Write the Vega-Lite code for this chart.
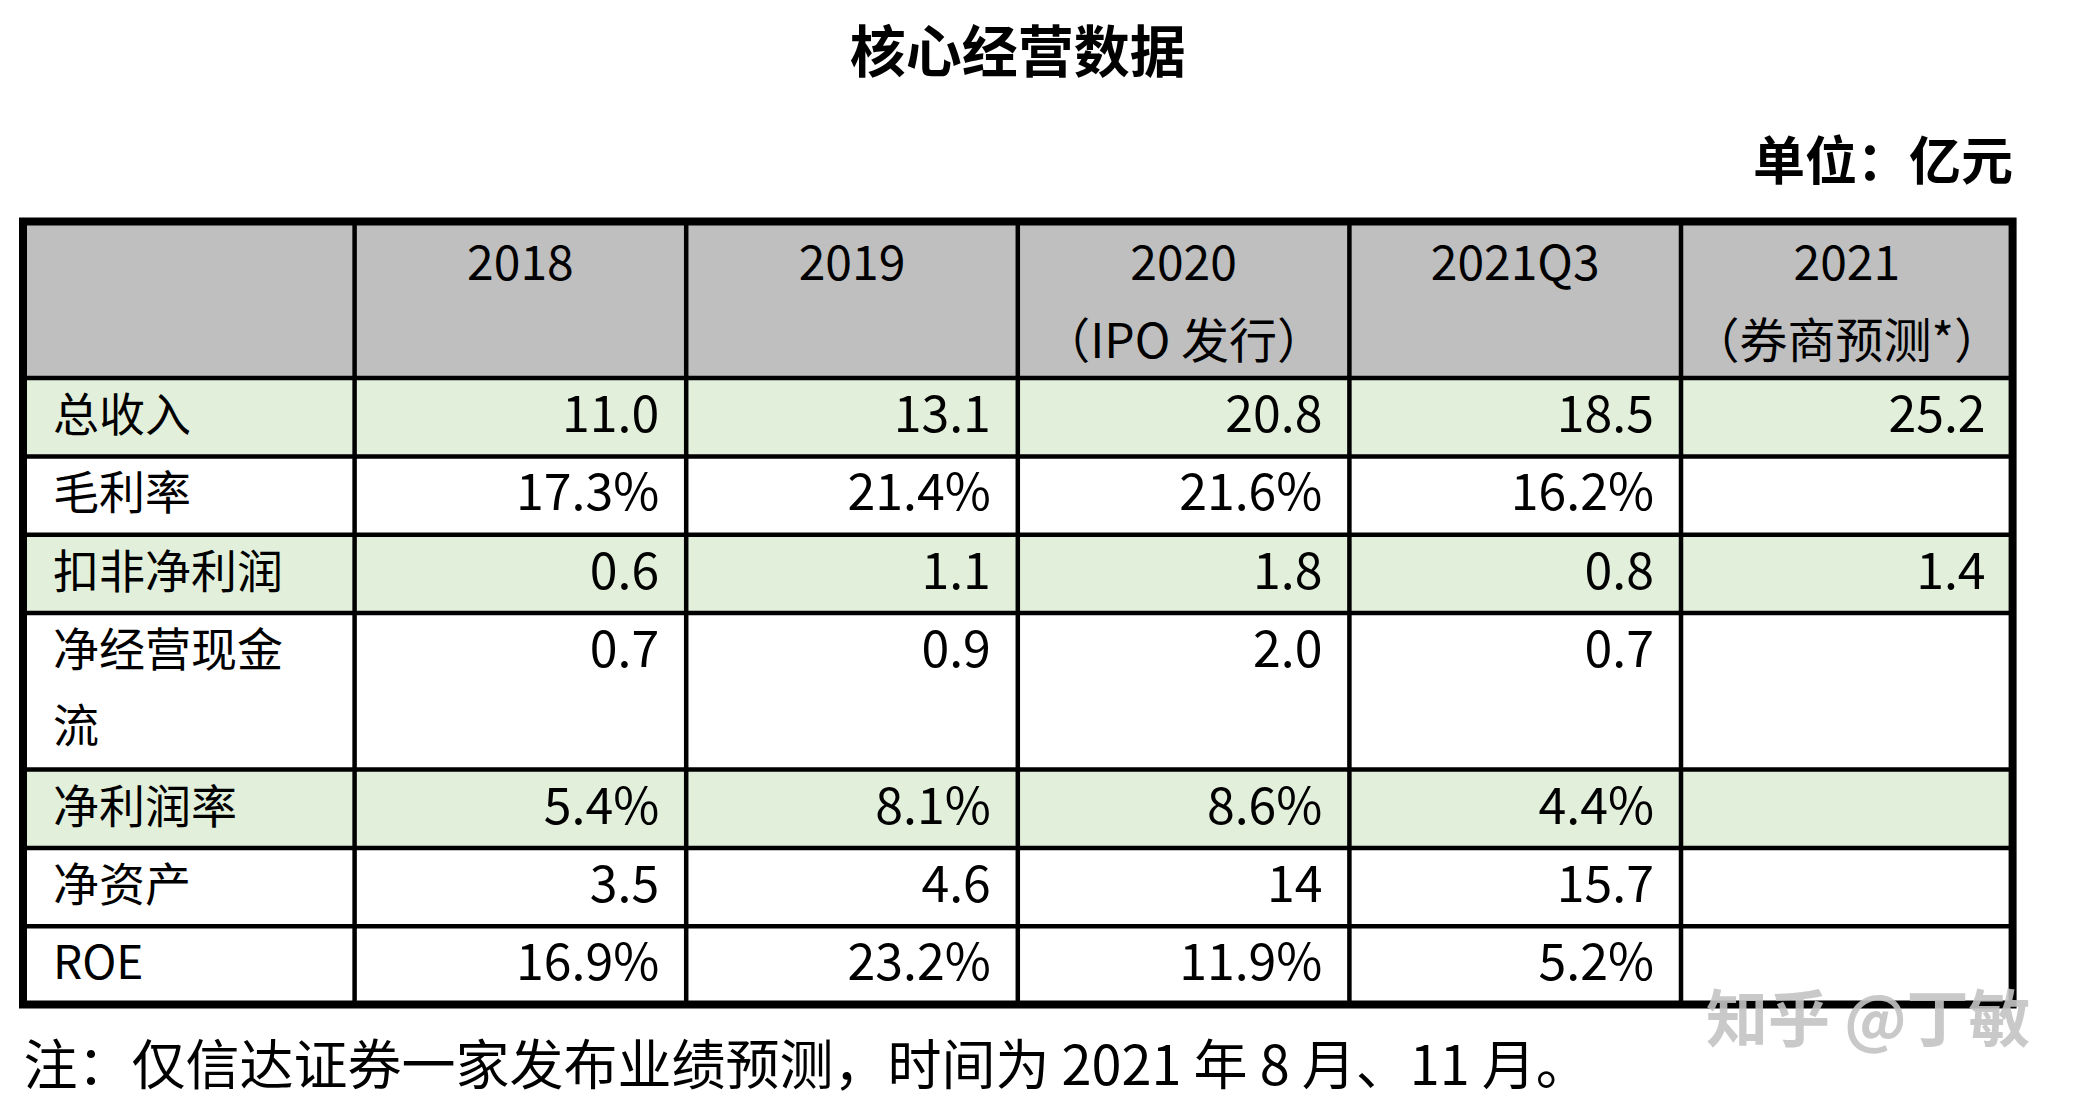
{
  "$schema": "https://vega.github.io/schema/vega-lite/v6.json",
  "width": 1989.6,
  "height": 783,
  "autosize": {"type": "none"},
  "padding": {"left": 23, "top": 221.5, "right": 68.4, "bottom": 99.5},
  "background": "white",
  "config": {"view": {"stroke": null}},
  "title": {
    "text": "核心经营数据",
    "font": "Noto Sans CJK SC",
    "fontSize": 56,
    "fontWeight": "bold",
    "color": "#000000",
    "anchor": "middle",
    "offset": 54
  },
  "datasets": {
    "rows": [
      {"metric": "表头", "label": "", "r0": 0, "r1": 2, "band": "header"},
      {"metric": "总收入", "label": "总收入", "r0": 2, "r1": 3, "band": "shaded"},
      {"metric": "毛利率", "label": "毛利率", "r0": 3, "r1": 4, "band": "plain"},
      {"metric": "扣非净利润", "label": "扣非净利润", "r0": 4, "r1": 5, "band": "shaded"},
      {"metric": "净经营现金流", "label": "净经营现金\n流", "r0": 5, "r1": 7, "band": "plain"},
      {"metric": "净利润率", "label": "净利润率", "r0": 7, "r1": 8, "band": "shaded"},
      {"metric": "净资产", "label": "净资产", "r0": 8, "r1": 9, "band": "plain"},
      {"metric": "ROE", "label": "ROE", "r0": 9, "r1": 10, "band": "plain"}
    ],
    "headers": [
      {"period": "2018", "line": 0, "text": "2018"},
      {"period": "2019", "line": 0, "text": "2019"},
      {"period": "2020", "line": 0, "text": "2020"},
      {"period": "2020", "line": 1, "text": "（IPO 发行）"},
      {"period": "2021Q3", "line": 0, "text": "2021Q3"},
      {"period": "2021", "line": 0, "text": "2021"},
      {"period": "2021", "line": 1, "text": "（券商预测*）"}
    ],
    "cells": [
      {"metric": "总收入", "line": 2, "period": "2018", "value": "11.0"},
      {"metric": "总收入", "line": 2, "period": "2019", "value": "13.1"},
      {"metric": "总收入", "line": 2, "period": "2020", "value": "20.8"},
      {"metric": "总收入", "line": 2, "period": "2021Q3", "value": "18.5"},
      {"metric": "总收入", "line": 2, "period": "2021", "value": "25.2"},
      {"metric": "毛利率", "line": 3, "period": "2018", "value": "17.3%"},
      {"metric": "毛利率", "line": 3, "period": "2019", "value": "21.4%"},
      {"metric": "毛利率", "line": 3, "period": "2020", "value": "21.6%"},
      {"metric": "毛利率", "line": 3, "period": "2021Q3", "value": "16.2%"},
      {"metric": "扣非净利润", "line": 4, "period": "2018", "value": "0.6"},
      {"metric": "扣非净利润", "line": 4, "period": "2019", "value": "1.1"},
      {"metric": "扣非净利润", "line": 4, "period": "2020", "value": "1.8"},
      {"metric": "扣非净利润", "line": 4, "period": "2021Q3", "value": "0.8"},
      {"metric": "扣非净利润", "line": 4, "period": "2021", "value": "1.4"},
      {"metric": "净经营现金流", "line": 5, "period": "2018", "value": "0.7"},
      {"metric": "净经营现金流", "line": 5, "period": "2019", "value": "0.9"},
      {"metric": "净经营现金流", "line": 5, "period": "2020", "value": "2.0"},
      {"metric": "净经营现金流", "line": 5, "period": "2021Q3", "value": "0.7"},
      {"metric": "净利润率", "line": 7, "period": "2018", "value": "5.4%"},
      {"metric": "净利润率", "line": 7, "period": "2019", "value": "8.1%"},
      {"metric": "净利润率", "line": 7, "period": "2020", "value": "8.6%"},
      {"metric": "净利润率", "line": 7, "period": "2021Q3", "value": "4.4%"},
      {"metric": "净资产", "line": 8, "period": "2018", "value": "3.5"},
      {"metric": "净资产", "line": 8, "period": "2019", "value": "4.6"},
      {"metric": "净资产", "line": 8, "period": "2020", "value": "14"},
      {"metric": "净资产", "line": 8, "period": "2021Q3", "value": "15.7"},
      {"metric": "ROE", "line": 9, "period": "2018", "value": "16.9%"},
      {"metric": "ROE", "line": 9, "period": "2019", "value": "23.2%"},
      {"metric": "ROE", "line": 9, "period": "2020", "value": "11.9%"},
      {"metric": "ROE", "line": 9, "period": "2021Q3", "value": "5.2%"}
    ]
  },
  "layer": [
    {
      "data": {"name": "rows"},
      "mark": {"type": "rect"},
      "encoding": {
        "y": {"field": "r0", "type": "quantitative", "scale": {"domain": [0, 10], "reverse": true, "nice": false, "zero": false}, "axis": null},
        "y2": {"field": "r1"},
        "color": {"field": "band", "type": "nominal", "scale": {"domain": ["header", "shaded", "plain"], "range": ["#BFBFBF", "#E2EFDA", "#FFFFFF"]}, "legend": null}
      }
    },
    {
      "data": {"name": "rows"},
      "transform": [{"filter": "datum.r0 > 0"}],
      "mark": {"type": "rule", "color": "#000000", "strokeWidth": 4.5},
      "encoding": {
        "y": {"field": "r0", "type": "quantitative", "scale": {"domain": [0, 10], "reverse": true, "nice": false, "zero": false}, "axis": null}
      }
    },
    {
      "data": {"name": "headers"},
      "transform": [{"filter": "datum.line == 0"}],
      "mark": {"type": "rule", "color": "#000000", "strokeWidth": 4.5},
      "encoding": {
        "x": {"field": "period", "type": "nominal", "bandPosition": 0, "scale": {"type": "band", "domain": ["指标", "2018", "2019", "2020", "2021Q3", "2021"], "paddingInner": 0, "paddingOuter": 0}, "axis": null}
      }
    },
    {
      "data": {"name": "rows"},
      "transform": [{"filter": "datum.r0 == 0"}],
      "mark": {"type": "rect", "fill": null, "fillOpacity": 0, "stroke": "#000000", "strokeWidth": 8},
      "encoding": {
        "y": {"datum": 0, "type": "quantitative", "scale": {"domain": [0, 10], "reverse": true, "nice": false, "zero": false}, "axis": null},
        "y2": {"datum": 10}
      }
    },
    {
      "data": {"name": "headers"},
      "mark": {"type": "text", "align": "center", "baseline": "line-top", "lineHeight": 78.3, "dy": 5, "font": "'Liberation Sans Narrow', 'Arial Narrow', 'Noto Sans CJK SC'", "fontSize": 48, "color": "#000000"},
      "encoding": {
        "x": {"field": "period", "type": "nominal", "bandPosition": 0.5, "scale": {"type": "band", "domain": ["指标", "2018", "2019", "2020", "2021Q3", "2021"], "paddingInner": 0, "paddingOuter": 0},
          "axis": {"orient": "top", "labels": false, "ticks": false, "domain": false, "grid": false, "title": "单位：亿元", "titleFont": "Noto Sans CJK SC", "titleFontSize": 52, "titleFontWeight": "bold", "titleColor": "#000000", "titleAnchor": "end", "titleAlign": "right", "titlePadding": 31}},
        "y": {"field": "line", "type": "quantitative", "scale": {"domain": [0, 10], "reverse": true, "nice": false, "zero": false}, "axis": null},
        "text": {"field": "text"}
      }
    },
    {
      "data": {"name": "cells"},
      "mark": {"type": "text", "align": "right", "baseline": "line-top", "lineHeight": 78.3, "dx": -27, "font": "'Liberation Sans Narrow', 'Arial Narrow', 'Noto Sans CJK SC'", "fontSize": 50, "color": "#000000"},
      "encoding": {
        "x": {"field": "period", "type": "nominal", "bandPosition": 1, "scale": {"type": "band", "domain": ["指标", "2018", "2019", "2020", "2021Q3", "2021"], "paddingInner": 0, "paddingOuter": 0},
          "axis": {"orient": "bottom", "labels": false, "ticks": false, "domain": false, "grid": false, "title": "注：仅信达证券一家发布业绩预测，时间为 2021 年 8 月、11 月。", "titleFont": "Noto Sans CJK SC", "titleFontSize": 54, "titleFontWeight": "normal", "titleColor": "#000000", "titleAnchor": "start", "titleAlign": "left", "titlePadding": 37}},
        "y": {"field": "line", "type": "quantitative", "scale": {"domain": [0, 10], "reverse": true, "nice": false, "zero": false}, "axis": null},
        "text": {"field": "value"}
      }
    },
    {
      "data": {"name": "rows"},
      "transform": [{"filter": "datum.r0 > 0"}],
      "mark": {"type": "text", "align": "left", "baseline": "line-top", "lineHeight": 76, "lineBreak": "\n", "dx": 30, "dy": 2, "font": "'Liberation Sans Narrow', 'Noto Sans CJK SC'", "fontSize": 46, "color": "#000000"},
      "encoding": {
        "x": {"datum": "指标", "type": "nominal", "bandPosition": 0, "scale": {"type": "band", "domain": ["指标", "2018", "2019", "2020", "2021Q3", "2021"], "paddingInner": 0, "paddingOuter": 0}, "axis": null},
        "y": {"field": "r0", "type": "quantitative", "scale": {"domain": [0, 10], "reverse": true, "nice": false, "zero": false}, "axis": null},
        "text": {"field": "label"}
      }
    },
    {
      "data": {"values": [{"mark": "知乎 @丁敏"}]},
      "mark": {"type": "text", "align": "right", "baseline": "middle", "dx": 18, "dy": 18, "font": "Noto Sans CJK SC", "fontSize": 62, "fontWeight": "bold", "fill": "#C4C4C4", "opacity": 0.9},
      "encoding": {
        "x": {"datum": "2021", "type": "nominal", "bandPosition": 1, "scale": {"type": "band", "domain": ["指标", "2018", "2019", "2020", "2021Q3", "2021"], "paddingInner": 0, "paddingOuter": 0}, "axis": null},
        "y": {"datum": 10, "type": "quantitative", "scale": {"domain": [0, 10], "reverse": true, "nice": false, "zero": false}, "axis": null},
        "text": {"field": "mark"}
      }
    }
  ],
  "resolve": {"axis": {"x": "independent"}}
}
